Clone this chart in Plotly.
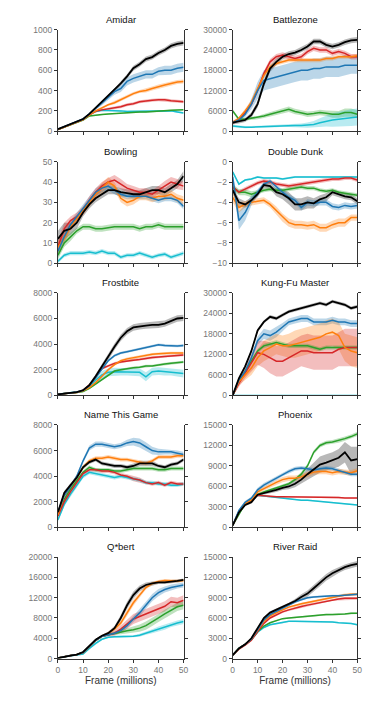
import plotly.graph_objects as go

# frames in millions
frames = [0, 2.5, 5, 7.5, 10, 12.5, 15, 17.5, 20, 22.5, 25, 27.5, 30, 32.5, 35, 37.5, 40, 42.5, 45, 47.5, 50]

# series order: black, blue, orange, red, green, cyan
amidar = [
    [20, 45, 70, 95, 120, 170, 230, 280, 340, 400, 470, 540, 620, 660, 710, 730, 770, 800, 840, 860, 870],
    [20, 45, 70, 95, 120, 170, 225, 275, 330, 390, 420, 490, 520, 540, 560, 560, 590, 600, 600, 620, 630],
    [15, 40, 65, 90, 115, 160, 200, 230, 260, 280, 310, 340, 370, 390, 400, 420, 440, 455, 470, 485, 490],
    [15, 40, 65, 90, 115, 160, 195, 210, 220, 230, 240, 260, 270, 290, 300, 305, 310, 310, 300, 295, 290],
    [15, 40, 60, 85, 110, 150, 160, 165, 170, 175, 180, 182, 185, 188, 190, 192, 195, 200, 205, 208, 210],
    [15, 40, 65, 90, 115, 165, 195, 205, 205, 205, 200, 195, 195, 195, 195, 195, 195, 198, 200, 190, 180],
]
amidar_sd = [
    [5, 5, 5, 5, 8, 10, 12, 15, 15, 20, 20, 20, 25, 25, 25, 25, 25, 25, 25, 25, 25],
    [5, 5, 5, 5, 8, 10, 15, 20, 25, 30, 35, 40, 40, 40, 40, 40, 40, 45, 45, 45, 45],
    [5, 5, 5, 5, 5, 8, 10, 10, 10, 15, 15, 15, 15, 15, 20, 20, 20, 20, 20, 20, 20],
    [5, 5, 5, 5, 5, 8, 10, 10, 12, 12, 15, 15, 15, 15, 15, 15, 15, 15, 15, 15, 15],
    [5, 5, 5, 5, 5, 5, 5, 5, 5, 5, 5, 5, 5, 5, 5, 5, 5, 5, 5, 5, 5],
    [5, 5, 5, 5, 5, 5, 8, 8, 8, 8, 8, 8, 8, 8, 8, 8, 8, 8, 8, 8, 8],
]

battlezone = [
    [2500, 2800, 3300, 4800, 8000, 14000, 18500, 20500, 22000, 22800, 23200, 24000, 25000, 26500, 26500, 25500, 25000, 25500, 26300, 26800, 27000],
    [2500, 3300, 5000, 8000, 12000, 15000, 15500, 16000, 16500, 17000, 17500, 18000, 18000, 18500, 18500, 19000, 19000, 19000, 19500, 19500, 19500],
    [2500, 3800, 6000, 8500, 12500, 16500, 19000, 20000, 20500, 21000, 21000, 21000, 21000, 21000, 21000, 21500, 21500, 22000, 22000, 22000, 22300],
    [2500, 3500, 5500, 8000, 12000, 17000, 20500, 22000, 22500, 22000, 21500, 22000, 23500, 24500, 24000, 24000, 23000, 23500, 23000, 22000, 22000],
    [6000, 3500, 3500, 3800, 4000, 4500, 5000, 5500, 6000, 6500, 5800, 5500, 5000, 5200, 5500, 5300, 5000, 5000, 5500, 5500, 5000],
    [1500, 1300, 1200, 1200, 1300, 1400, 1400, 1500, 1600, 1600, 1700, 1700, 1800, 2000, 2500, 3000, 3300, 3500, 3800, 4000, 4200],
]
battlezone_sd = [
    [500, 500, 600, 800, 1000, 1000, 1000, 1000, 800, 800, 800, 800, 800, 800, 800, 800, 800, 800, 800, 800, 800],
    [500, 500, 800, 1500, 2500, 3000, 3000, 3000, 3000, 3000, 3000, 3000, 3000, 3000, 3000, 3000, 3000, 3000, 3000, 2500, 2500],
    [500, 500, 600, 800, 800, 800, 800, 600, 600, 600, 600, 600, 600, 600, 600, 600, 600, 600, 600, 600, 600],
    [500, 500, 600, 800, 800, 800, 800, 800, 800, 800, 800, 800, 800, 800, 800, 800, 800, 800, 800, 800, 800],
    [500, 500, 500, 500, 500, 600, 600, 600, 800, 800, 800, 800, 800, 800, 800, 800, 1000, 1000, 1200, 1200, 1200],
    [300, 300, 300, 300, 300, 300, 300, 300, 300, 400, 500, 600, 800, 1000, 1300, 1600, 2000, 2200, 2400, 2500, 2500],
]

bowling = [
    [12, 16, 17, 20, 25, 29, 32, 34, 36, 36, 35, 34.5, 34, 34, 35, 36, 36, 35, 37, 39, 43],
    [6, 13, 19, 23, 27, 31, 35, 37, 38, 36, 34, 33, 33, 33, 33, 32, 31, 32, 32, 31, 28],
    [8, 12, 18, 22, 26, 30, 34, 37, 40, 38, 32, 30, 31, 33, 33, 32, 33, 33, 34, 32, 31],
    [8, 17, 21, 23, 26, 31, 35, 38, 40, 41, 39, 37, 36, 35, 35, 34, 36, 38, 40, 39, 38],
    [4, 10, 13, 16, 18, 18, 17, 17, 17.5, 18, 18, 18, 18, 17, 18, 18, 19, 18, 18, 18, 18],
    [1, 4, 5, 5, 5, 5.5, 5, 6, 5, 5, 3, 4, 4, 5, 4, 3, 4, 4.5, 3, 4, 5],
]
bowling_sd = [
    [4, 4, 3, 3, 2, 2, 2, 2, 2, 2, 2, 2, 2, 2, 2, 2, 2, 2, 2, 2, 2.5],
    [3, 3, 2, 2, 2, 2, 2, 2, 2, 2, 1.5, 1.5, 1.5, 1.5, 1.5, 1.5, 1.5, 1.5, 1.5, 1.5, 1.5],
    [3, 3, 2, 2, 2, 2, 2, 2.5, 2.5, 2, 2, 2, 2, 2, 2, 2, 2, 2, 2, 2, 2],
    [3, 3, 2, 2, 2, 2, 2, 2, 2, 2.5, 2.5, 2, 2, 2, 2, 2, 2, 2.5, 2.5, 2.5, 2],
    [2, 2, 2, 1.5, 1.5, 1.5, 1.5, 1.5, 1.5, 1.5, 1.5, 1.5, 1.5, 1.5, 1.5, 1.5, 1.5, 1.5, 1.5, 1.5, 1.5],
    [1, 1, 1, 1, 1, 1, 1, 1, 1, 1, 1, 1, 1, 1, 1, 1, 1, 1, 1, 1, 1],
]

double_dunk = [
    [-2.8, -4.0, -4.2, -3.8, -3.2, -2.3, -2.4, -3.0, -3.2, -3.6, -4.2, -4.2, -4.0, -4.1, -3.7, -3.5, -3.0, -3.2, -3.4, -3.5, -3.9],
    [-1.5, -5.8, -5.0, -3.8, -3.0, -2.2, -1.9, -2.5, -3.0, -3.5, -3.8, -4.5, -4.0, -4.1, -4.0, -4.0, -4.4, -4.5, -4.3, -4.4, -4.3],
    [-3.5, -4.5, -4.2, -4.0, -3.9, -3.8, -4.2, -4.8, -5.5, -6.0, -6.2, -6.2, -6.3, -6.2, -6.5, -6.5, -6.2, -6.0, -6.0, -5.5, -5.5],
    [-2.5, -3.0, -2.7, -2.4, -2.1, -1.9, -2.0, -2.2, -2.3, -2.4, -2.3, -2.2, -2.1, -2.0, -1.9, -1.8, -1.7, -1.7, -1.6, -1.6, -1.8],
    [-2.5, -3.0, -3.0, -3.2, -3.0, -2.8, -2.7, -2.8, -2.8, -2.7, -2.6, -2.5, -2.6, -2.6, -2.8, -2.9, -2.8, -3.0, -3.1, -3.2, -3.3],
    [-1.0, -2.2, -1.8, -1.7, -1.5, -1.6, -1.6, -1.6, -1.7, -1.6, -1.5, -1.5, -1.5, -1.5, -1.5, -1.5, -1.5, -1.5, -1.5, -1.5, -1.5],
]
double_dunk_sd = [
    [0.4, 0.4, 0.3, 0.3, 0.3, 0.3, 0.3, 0.4, 0.5, 0.6, 0.6, 0.6, 0.6, 0.5, 0.4, 0.4, 0.3, 0.3, 0.3, 0.3, 0.3],
    [0.5, 0.9, 0.8, 0.5, 0.3, 0.2, 0.2, 0.2, 0.3, 0.3, 0.3, 0.3, 0.3, 0.3, 0.3, 0.3, 0.3, 0.3, 0.3, 0.3, 0.3],
    [0.5, 0.5, 0.3, 0.3, 0.3, 0.3, 0.3, 0.4, 0.4, 0.4, 0.4, 0.4, 0.4, 0.4, 0.4, 0.4, 0.4, 0.4, 0.4, 0.3, 0.3],
    [0.2, 0.2, 0.2, 0.2, 0.2, 0.2, 0.2, 0.2, 0.2, 0.2, 0.2, 0.2, 0.2, 0.2, 0.2, 0.2, 0.2, 0.2, 0.2, 0.2, 0.2],
    [0.3, 0.3, 0.3, 0.3, 0.2, 0.2, 0.2, 0.2, 0.2, 0.2, 0.2, 0.2, 0.2, 0.2, 0.2, 0.2, 0.2, 0.2, 0.2, 0.2, 0.2],
    [0.1, 0.1, 0.1, 0.1, 0.1, 0.1, 0.1, 0.1, 0.1, 0.1, 0.1, 0.1, 0.1, 0.1, 0.1, 0.1, 0.1, 0.1, 0.1, 0.1, 0.1],
]

frostbite = [
    [80, 150, 180, 250, 400, 800, 1500, 2300, 3000, 3800, 4500, 5000, 5300, 5400, 5450, 5500, 5500, 5600, 5800, 6000, 6050],
    [80, 150, 180, 250, 400, 750, 1400, 2100, 2700, 3100, 3300, 3400, 3500, 3600, 3700, 3850, 3950, 3900, 3850, 3850, 3900],
    [80, 150, 180, 230, 350, 600, 1000, 1500, 2000, 2400, 2700, 2850, 2950, 3050, 3100, 3200, 3250, 3300, 3300, 3300, 3300],
    [80, 150, 180, 250, 400, 800, 1400, 2100, 2300, 2500, 2600, 2700, 2750, 2800, 2900, 2950, 3000, 3050, 3100, 3150, 3150],
    [80, 150, 180, 220, 300, 550, 900, 1250, 1600, 1900, 2000, 2100, 2150, 2200, 2300, 2300, 2400, 2450, 2500, 2550, 2600],
    [80, 150, 180, 240, 350, 700, 1200, 1600, 1800, 1850, 1850, 1850, 1850, 1800, 1450, 1850, 1900, 1850, 1850, 1800, 1700],
]
frostbite_sd = [
    [30, 30, 30, 50, 80, 120, 150, 200, 250, 250, 250, 250, 250, 250, 250, 250, 250, 250, 250, 250, 250],
    [30, 30, 30, 50, 50, 80, 100, 100, 100, 100, 100, 100, 100, 100, 100, 100, 100, 100, 100, 100, 100],
    [30, 30, 30, 50, 50, 80, 100, 100, 100, 100, 100, 100, 100, 100, 100, 100, 100, 100, 100, 100, 100],
    [30, 30, 30, 50, 50, 80, 100, 100, 100, 100, 100, 100, 100, 100, 100, 100, 100, 100, 100, 100, 100],
    [30, 30, 30, 50, 50, 80, 100, 100, 100, 100, 100, 100, 100, 100, 100, 100, 100, 100, 100, 100, 100],
    [30, 30, 30, 50, 50, 100, 200, 300, 300, 300, 300, 300, 300, 300, 350, 300, 300, 300, 300, 300, 300],
]

kungfu = [
    [0, 5000, 8500, 13000, 19000, 21500, 23000, 22500, 23500, 24500, 25000, 25500, 26000, 26500, 27000, 26500, 27500, 27000, 26500, 25500, 26000],
    [0, 4500, 7000, 11000, 16000, 18000, 17500, 18500, 20000, 21500, 22000, 22500, 22500, 21500, 21500, 21500, 22000, 21500, 21500, 21000, 21000],
    [0, 4000, 6000, 8000, 11000, 13000, 14000, 15000, 14500, 14500, 15000, 15500, 16000, 16500, 17000, 18000, 18500, 17500, 14000, 13000, 12500],
    [0, 3500, 6500, 9500, 12500, 12000, 11000, 10000, 10000, 11000, 12000, 13000, 13000, 12500, 12500, 12500, 12500, 13500, 14000, 14000, 14000],
    [0, 4000, 7000, 10000, 13000, 14500, 15000, 15500, 15000, 14500, 14500, 14500, 14500, 14000, 13500, 14000, 14000, 14000, 14000, 14000, 14000],
    [0, 0, 0, 0, 0, 0, 0, 0, 0, 0, 0, 0, 0, 0, 0, 0, 0, 0, 0, 0, 0],
]
kungfu_sd = [
    [300, 500, 500, 500, 500, 500, 500, 500, 500, 500, 500, 500, 500, 500, 500, 500, 500, 500, 500, 500, 500],
    [300, 500, 800, 1000, 1200, 1500, 1500, 1500, 1200, 1000, 1000, 1000, 1000, 1000, 1000, 1000, 1000, 1000, 1000, 1000, 1000],
    [300, 1000, 1500, 2000, 2500, 3000, 3000, 3000, 3000, 3500, 4000, 4000, 4000, 4000, 4000, 4000, 4000, 4000, 4000, 4500, 4500],
    [300, 1000, 1500, 2500, 3500, 4000, 4500, 4500, 4500, 4500, 4500, 4500, 5000, 5000, 5000, 5000, 5000, 5000, 5500, 5500, 5500],
    [300, 500, 500, 600, 600, 600, 600, 600, 600, 600, 600, 600, 600, 600, 600, 600, 600, 600, 600, 600, 600],
    [0, 0, 0, 0, 0, 0, 0, 0, 0, 0, 0, 0, 0, 0, 0, 0, 0, 0, 0, 0, 0],
]

name_this_game = [
    [1200, 2700, 3300, 3900, 4700, 5100, 5300, 5000, 4900, 4800, 4800, 4700, 4800, 5000, 5000, 5000, 4800, 4700, 4900, 5000, 5300],
    [1200, 2500, 3200, 4000, 5200, 6200, 6500, 6500, 6400, 6300, 6400, 6600, 6700, 6600, 6300, 6000, 5900, 5900, 5900, 5800, 5700],
    [1000, 2500, 3200, 3900, 4700, 5200, 5400, 5400, 5500, 5400, 5300, 5300, 5200, 5100, 5000, 5200, 5500, 5500, 5500, 5600, 5600],
    [900, 2000, 2800, 3500, 4200, 4500, 4500, 4400, 4400, 4300, 4100, 4000, 3800, 3700, 3500, 3400, 3500, 3300, 3500, 3400, 3400],
    [1000, 2200, 3000, 3700, 4300, 4700, 4500, 4500, 4500, 4400, 4400, 4500, 4600, 4600, 4600, 4600, 4500, 4500, 4600, 4600, 4600],
    [600, 1800, 2600, 3300, 4000, 4300, 4200, 4100, 4000, 3900, 4000, 3900, 3800, 3700, 3500, 3500, 3400, 3400, 3300, 3300, 3400],
]
name_this_game_sd = [
    [150, 150, 150, 150, 150, 150, 150, 150, 150, 150, 150, 150, 200, 200, 200, 200, 150, 150, 150, 150, 150],
    [150, 150, 150, 150, 150, 200, 200, 200, 200, 200, 200, 250, 300, 350, 350, 300, 250, 200, 200, 200, 200],
    [150, 150, 150, 150, 150, 150, 150, 150, 150, 150, 150, 150, 150, 150, 150, 150, 150, 150, 150, 150, 150],
    [150, 150, 150, 150, 150, 150, 150, 150, 150, 150, 150, 150, 200, 200, 150, 150, 150, 150, 150, 150, 150],
    [150, 150, 150, 150, 150, 150, 150, 150, 150, 150, 150, 150, 150, 150, 150, 150, 150, 150, 150, 150, 150],
    [150, 150, 150, 150, 150, 150, 150, 150, 150, 150, 150, 150, 150, 150, 150, 150, 150, 150, 150, 150, 150],
]

phoenix = [
    [300, 2200, 3300, 3700, 4800, 5000, 5200, 5500, 5800, 6000, 6400, 7000, 7800, 8500, 9200, 9500, 9800, 10200, 11000, 9800, 10000],
    [300, 2500, 3700, 4300, 5500, 6200, 6700, 7200, 7800, 8200, 8600, 8700, 8600, 8400, 8600, 8700, 8600, 8300, 8000, 7800, 7800],
    [300, 2300, 3500, 4000, 5200, 5700, 6200, 6600, 7000, 7200, 7200, 7400, 7800, 8100, 8200, 8200, 8000, 8200, 8100, 8000, 8300],
    [300, 2300, 3500, 4000, 4700, 4600, 4500, 4500, 4500, 4500, 4400, 4500, 4500, 4500, 4400, 4400, 4400, 4400, 4300, 4300, 4300],
    [300, 2000, 3500, 4000, 4800, 5200, 5500, 5800, 6100, 6400, 7000, 7800, 9000, 11000, 12000, 12400, 12500, 12700, 13000, 13300, 13700],
    [300, 2300, 3500, 4000, 4700, 4600, 4400, 4400, 4300, 4200, 4100, 4000, 4000, 3900, 3800, 3700, 3700, 3600, 3500, 3400, 3300],
]
phoenix_sd = [
    [100, 200, 200, 200, 200, 200, 200, 300, 300, 400, 500, 600, 800, 1000, 1200, 1200, 1200, 1300, 1500, 2000, 1800],
    [100, 200, 200, 200, 300, 300, 300, 300, 300, 300, 300, 300, 300, 300, 300, 300, 300, 300, 300, 300, 300],
    [100, 200, 200, 200, 300, 300, 300, 400, 400, 400, 400, 400, 400, 400, 400, 400, 400, 400, 400, 400, 400],
    [100, 100, 100, 100, 100, 100, 100, 100, 100, 100, 100, 100, 100, 100, 100, 100, 100, 100, 100, 100, 100],
    [100, 200, 200, 200, 200, 200, 200, 200, 200, 200, 200, 300, 300, 300, 300, 300, 300, 300, 300, 300, 300],
    [100, 100, 100, 100, 100, 100, 100, 100, 100, 100, 100, 100, 100, 100, 100, 100, 100, 100, 100, 100, 100],
]

qbert = [
    [100, 400, 600, 800, 1300, 2500, 3700, 4500, 5000, 6000, 8000, 10500, 12500, 13800, 14500, 14800, 15000, 15000, 15100, 15300, 15500],
    [100, 400, 600, 800, 1200, 2400, 3600, 4400, 4700, 5000, 5500, 6500, 7800, 9000, 10500, 12000, 13000, 13600, 14000, 14300, 14500],
    [100, 400, 600, 800, 1200, 2400, 3600, 4400, 5000, 5800, 7000, 9000, 11000, 12500, 14000, 14800, 15200, 15400, 15300, 15300, 15400],
    [100, 400, 600, 800, 1200, 2400, 3600, 4400, 4700, 5000, 5800, 6800, 7800, 8300, 8800, 9300, 9800, 10300, 11200, 11000, 11500],
    [100, 400, 600, 800, 1200, 2400, 3600, 4400, 4700, 5000, 5200, 5500, 5700, 6000, 6500, 7200, 8000, 8800, 9500, 10200, 10500],
    [100, 350, 550, 700, 900, 2000, 3000, 3800, 4200, 4300, 4300, 4300, 4400, 4600, 5000, 5400, 5800, 6200, 6700, 7000, 7300],
]
qbert_sd = [
    [50, 50, 50, 100, 100, 150, 200, 200, 300, 400, 600, 700, 700, 600, 500, 400, 300, 300, 300, 300, 300],
    [50, 50, 50, 100, 100, 150, 200, 200, 200, 300, 400, 500, 600, 700, 700, 700, 700, 600, 600, 500, 500],
    [50, 50, 50, 100, 100, 150, 200, 200, 300, 400, 500, 600, 600, 500, 400, 300, 300, 300, 300, 300, 300],
    [50, 50, 50, 100, 100, 150, 200, 200, 300, 500, 700, 900, 1000, 1000, 1000, 1000, 1000, 1000, 1000, 1000, 1000],
    [50, 50, 50, 100, 100, 150, 200, 200, 300, 300, 400, 500, 600, 700, 800, 800, 800, 800, 800, 800, 800],
    [50, 50, 50, 100, 100, 150, 200, 200, 200, 200, 200, 200, 200, 300, 300, 400, 500, 500, 500, 500, 500],
]

river_raid = [
    [500, 1500, 2100, 3000, 4500, 6000, 6800, 7200, 7600, 8000, 8500, 9100, 9600, 10400, 11200, 12000, 12600, 13100, 13500, 13800, 14000],
    [500, 1500, 2100, 2900, 4300, 5700, 6500, 7000, 7500, 8000, 8400, 8700, 9000, 9100, 9200, 9300, 9300, 9300, 9400, 9500, 9500],
    [500, 1500, 2100, 2900, 4200, 5500, 6300, 6800, 7200, 7600, 7900, 8100, 8300, 8500, 8700, 8900, 9100, 9300, 9400, 9500, 9500],
    [500, 1400, 2000, 2700, 4000, 5200, 6000, 6500, 6900, 7200, 7500, 7700, 7900, 8100, 8300, 8500, 8700, 8800, 8900, 8900, 8900],
    [500, 1500, 2100, 2800, 4000, 4800, 5300, 5600, 5900, 6000, 6100, 6200, 6200, 6300, 6400, 6500, 6500, 6500, 6600, 6700, 6700],
    [500, 1500, 2100, 2800, 3900, 4600, 5000, 5200, 5300, 5500, 5500, 5500, 5500, 5400, 5400, 5400, 5400, 5300, 5300, 5200, 5000],
]
river_raid_sd = [
    [100, 100, 100, 150, 200, 200, 200, 200, 200, 250, 300, 400, 450, 500, 500, 500, 500, 450, 400, 400, 400],
    [100, 100, 100, 100, 150, 150, 150, 150, 150, 150, 150, 150, 150, 150, 150, 150, 150, 150, 150, 150, 150],
    [100, 100, 100, 100, 150, 150, 150, 150, 150, 150, 150, 150, 150, 150, 150, 150, 200, 200, 200, 200, 200],
    [100, 100, 100, 100, 150, 150, 150, 150, 150, 150, 150, 150, 150, 150, 150, 150, 150, 200, 200, 200, 200],
    [100, 100, 100, 100, 100, 100, 100, 100, 100, 100, 100, 100, 100, 100, 100, 100, 100, 100, 100, 100, 100],
    [100, 100, 100, 100, 100, 100, 100, 100, 100, 100, 100, 100, 100, 100, 100, 100, 100, 100, 100, 100, 100],
]

titles = ["Amidar", "Battlezone", "Bowling", "Double Dunk", "Frostbite",
          "Kung-Fu Master", "Name This Game", "Phoenix", "Q*bert", "River Raid"]
means = [amidar, battlezone, bowling, double_dunk, frostbite,
         kungfu, name_this_game, phoenix, qbert, river_raid]
spreads = [amidar_sd, battlezone_sd, bowling_sd, double_dunk_sd, frostbite_sd,
           kungfu_sd, name_this_game_sd, phoenix_sd, qbert_sd, river_raid_sd]

# axis settings: (ymin, ymax, dtick)
y_axes = [(0, 1000, 200), (0, 30000, 6000), (0, 50, 10), (-10, 0, 2), (0, 8000, 2000),
          (0, 30000, 6000), (0, 8000, 2000), (0, 15000, 3000), (0, 20000, 4000), (0, 15000, 3000)]

line_colors = ["#000000", "#1f77b4", "#ff7f0e", "#d62728", "#2ca02c", "#17becf"]
band_colors = ["rgba(0,0,0,0.28)", "rgba(31,119,180,0.3)", "rgba(255,127,14,0.3)",
               "rgba(214,39,40,0.3)", "rgba(44,160,44,0.3)", "rgba(23,190,207,0.3)"]
line_widths = [1.8, 1.5, 1.5, 1.5, 1.5, 1.5]
draw_order = [5, 4, 3, 2, 1, 0]

# pixel layout of the panels
W, H = 381, 705
col_x = [(57, 185), (235, 362)]
row_y = [(25, 128), (159, 262), (292, 396), (426, 530), (560, 663)]

FONT = "Liberation Sans, Arial, sans-serif"
fig = go.Figure()
layout = {}
annotations = []

for i, title in enumerate(titles):
    r, c = divmod(i, 2)
    n = i + 1
    xa = "x" if n == 1 else f"x{n}"
    ya = "y" if n == 1 else f"y{n}"

    for k in range(6):
        m, s = means[i][k], spreads[i][k]
        upper = [a + b for a, b in zip(m, s)]
        lower = [a - b for a, b in zip(m, s)]
        fig.add_trace(go.Scatter(
            x=frames + frames[::-1], y=upper + lower[::-1],
            fill="toself", fillcolor=band_colors[k], line=dict(width=0),
            mode="lines", hoverinfo="skip", showlegend=False,
            xaxis=xa, yaxis=ya,
        ))
    for k in draw_order:
        fig.add_trace(go.Scatter(
            x=frames, y=means[i][k], mode="lines",
            line=dict(color=line_colors[k], width=line_widths[k]),
            showlegend=False, xaxis=xa, yaxis=ya,
        ))

    x0, x1 = col_x[c]
    y0, y1 = row_y[r]
    ymin, ymax, dt = y_axes[i]
    bottom = r == 4
    layout["xaxis" if n == 1 else f"xaxis{n}"] = dict(
        domain=[x0 / W, x1 / W], anchor=ya, range=[0, 50], dtick=10,
        showline=True, linecolor="#333", linewidth=1,
        ticks="outside", ticklen=3, tickcolor="#333",
        showticklabels=bottom, showgrid=False, zeroline=False,
        tickfont=dict(size=8.5, color="#777", family=FONT),
        title=dict(text="Frame (millions)" if bottom else "",
                   font=dict(size=10, color="#333", family=FONT), standoff=3),
    )
    layout["yaxis" if n == 1 else f"yaxis{n}"] = dict(
        domain=[(H - y1) / H, (H - y0) / H], anchor=xa, range=[ymin, ymax], dtick=dt,
        showline=True, mirror="ticks", linecolor="#333", linewidth=1,
        ticks="outside", ticklen=3, tickcolor="#333",
        showgrid=False, zeroline=False, tickformat="d",
        tickfont=dict(size=8.5, color="#777", family=FONT),
    )
    annotations.append(dict(
        text=title, x=(x0 + x1) / 2 / W, y=(H - y0) / H, xref="paper", yref="paper",
        xanchor="center", yanchor="bottom", yshift=3, showarrow=False,
        font=dict(size=9.5, color="#111", family=FONT),
    ))

fig.update_layout(
    width=W, height=H, margin=dict(l=0, r=0, t=0, b=0),
    plot_bgcolor="white", paper_bgcolor="white",
    annotations=annotations, **layout,
)

# pin the page to exactly the figure size (no body margin, no extra height)
page_fix = (
    "document.documentElement.style.margin='0';"
    "document.body.style.margin='0';"
    "document.body.style.height='705px';"
    "document.body.style.overflow='hidden';"
    "document.documentElement.style.overflow='hidden';"
)
fig.write_html("out.html", config={"displayModeBar": False}, post_script=page_fix)
